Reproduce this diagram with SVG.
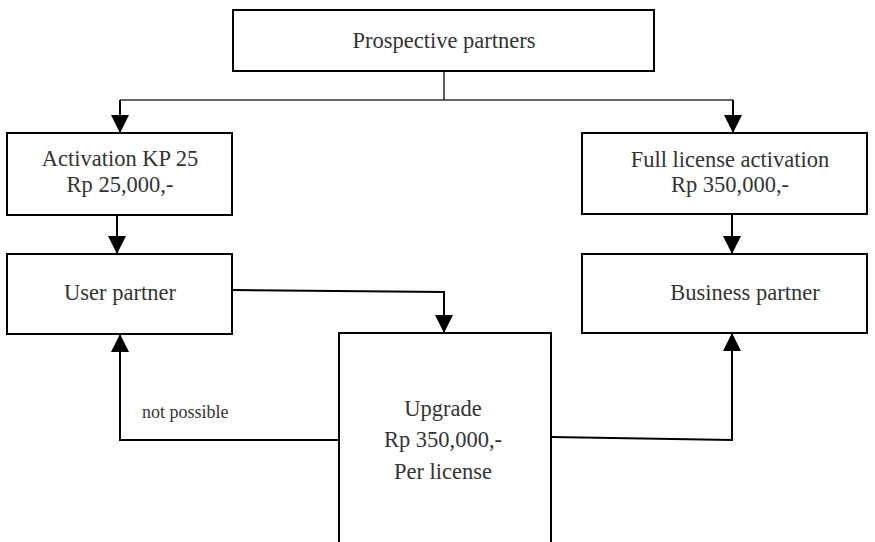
<svg xmlns="http://www.w3.org/2000/svg" width="875" height="542" viewBox="0 0 875 542">
<style>
.box{fill:#fff;stroke:#000;stroke-width:2}
.t{font-family:'Liberation Serif','DejaVu Serif',serif;font-size:22.5px;fill:#333;text-anchor:middle}
.s{font-family:'Liberation Serif','DejaVu Serif',serif;font-size:18px;fill:#333}
.c{fill:none;stroke:#000;stroke-width:2}
.c0{fill:none;stroke:#333;stroke-width:1.6}
</style>
<defs>
<marker id="ah" markerUnits="userSpaceOnUse" markerWidth="18" markerHeight="18" viewBox="0 0 18 18" refX="18" refY="9" orient="auto">
<path d="M0,0 L18,9 L0,18 Z" fill="#000"/>
</marker>
</defs>
<g id="connectors">
<path class="c0" d="M444,71 V100"/>
<path class="c0" d="M120,100 H733"/>
<path class="c" d="M120,100 V133" marker-end="url(#ah)"/>
<path class="c" d="M733,100 V133" marker-end="url(#ah)"/>
<path class="c" d="M117,215 V254" marker-end="url(#ah)"/>
<path class="c" d="M732,214 V254" marker-end="url(#ah)"/>
<path class="c" d="M232,290 L444,292 V333" marker-end="url(#ah)"/>
<path class="c" d="M339,440 H120 V334" marker-end="url(#ah)"/>
<path class="c" d="M551,437 L732,440 V333" marker-end="url(#ah)"/>
<text class="s" x="142" y="418">not possible</text>
</g>
<g id="n-prospective">
<rect class="box" x="233" y="10" width="421" height="61"/>
<text class="t" x="444" y="48">Prospective partners</text>
</g>
<g id="n-activation">
<rect class="box" x="7" y="133" width="225" height="82"/>
<text class="t" x="120" y="166">Activation KP 25</text>
<text class="t" x="120" y="192">Rp 25,000,-</text>
</g>
<g id="n-full">
<rect class="box" x="582" y="133" width="285" height="81"/>
<text class="t" x="730" y="167">Full license activation</text>
<text class="t" x="730" y="192">Rp 350,000,-</text>
</g>
<g id="n-user">
<rect class="box" x="7" y="254" width="225" height="80"/>
<text class="t" x="120" y="300">User partner</text>
</g>
<g id="n-business">
<rect class="box" x="582" y="254" width="285" height="79"/>
<text class="t" x="745" y="300">Business partner</text>
</g>
<g id="n-upgrade">
<rect class="box" x="339" y="333" width="212" height="215"/>
<text class="t" x="443" y="416">Upgrade</text>
<text class="t" x="443" y="447">Rp 350,000,-</text>
<text class="t" x="443" y="479">Per license</text>
</g>
</svg>
